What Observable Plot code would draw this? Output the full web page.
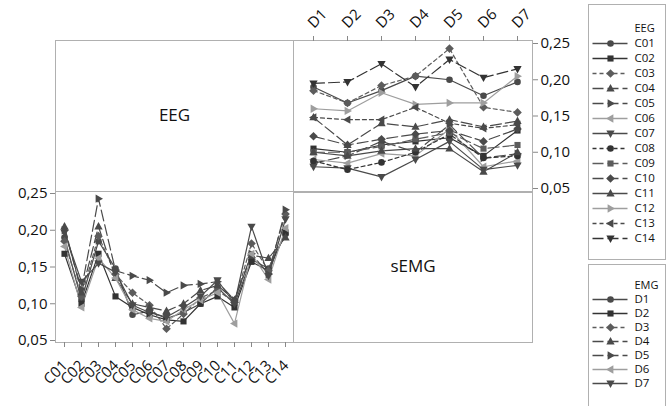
<!DOCTYPE html>
<html><head><meta charset="utf-8">
<script src="https://cdn.jsdelivr.net/npm/d3@7"></script>
<script src="https://cdn.jsdelivr.net/npm/@observablehq/plot@0.6"></script>
<style>
html,body{margin:0;padding:0;background:#fff;overflow:hidden;}
#chart{position:relative;width:670px;height:406px;font-family:"Open Sans",sans-serif;}
#chart svg{position:absolute;overflow:visible;}
</style></head><body><div id="chart"></div>
<script>
// ---------- data ----------
const eegChannels = ["C01","C02","C03","C04","C05","C06","C07","C08","C09","C10","C11","C12","C13","C14"];
const emgChannels = ["D1","D2","D3","D4","D5","D6","D7"];
const yTicks = [0.05, 0.10, 0.15, 0.20, 0.25];
// one array per EEG channel, values for D1..D7
const C01 = [0.190, 0.168, 0.185, 0.205, 0.200, 0.178, 0.197];
const C02 = [0.105, 0.100, 0.110, 0.115, 0.120, 0.095, 0.130];
const C03 = [0.185, 0.168, 0.192, 0.205, 0.243, 0.162, 0.155];
const C04 = [0.148, 0.110, 0.140, 0.135, 0.145, 0.135, 0.143];
const C05 = [0.085, 0.095, 0.115, 0.100, 0.138, 0.092, 0.098];
const C06 = [0.090, 0.085, 0.098, 0.095, 0.132, 0.080, 0.088];
const C07 = [0.080, 0.078, 0.066, 0.090, 0.115, 0.076, 0.082];
const C08 = [0.088, 0.076, 0.086, 0.100, 0.125, 0.092, 0.095];
const C09 = [0.100, 0.100, 0.108, 0.118, 0.127, 0.105, 0.110];
const C10 = [0.122, 0.110, 0.118, 0.125, 0.130, 0.115, 0.132];
const C11 = [0.100, 0.095, 0.102, 0.105, 0.105, 0.073, 0.100];
const C12 = [0.160, 0.157, 0.182, 0.166, 0.168, 0.168, 0.205];
const C13 = [0.148, 0.145, 0.145, 0.162, 0.140, 0.133, 0.138];
const C14 = [0.195, 0.197, 0.222, 0.190, 0.228, 0.203, 0.215];
const matrix = {C01,C02,C03,C04,C05,C06,C07,C08,C09,C10,C11,C12,C13,C14};

const table = [];
eegChannels.forEach(c => emgChannels.forEach((d, j) => table.push({c, d, v: matrix[c][j]})));

// ---------- styles ----------
function tri(angle){
  return {draw(ctx, size){
    const r = Math.sqrt(size/Math.PI);
    const pts = [[0,-1.25*r],[1.15*r,0.8*r],[-1.15*r,0.8*r]];
    const a = angle*Math.PI/180, c = Math.cos(a), s = Math.sin(a);
    pts.forEach(([x,y],i)=>{const X=x*c-y*s, Y=x*s+y*c; i?ctx.lineTo(X,Y):ctx.moveTo(X,Y);});
    ctx.closePath();
  }};
}
const SYM = {
  circle:{draw(ctx,size){const r=Math.sqrt(size/Math.PI)*0.92;ctx.moveTo(r,0);ctx.arc(0,0,r,0,2*Math.PI);}},
  square:{draw(ctx,size){const r=Math.sqrt(size/Math.PI)*0.85;ctx.rect(-r,-r,2*r,2*r);}},
  diamond:{draw(ctx,size){const r=Math.sqrt(size/Math.PI)*1.2;ctx.moveTo(0,-r);ctx.lineTo(r,0);ctx.lineTo(0,r);ctx.lineTo(-r,0);ctx.closePath();}},
  up:tri(0), right:tri(90), down:tri(180), left:tri(270)
};
const DARK="#4a4a4a", DARK2="#333", MID="#5c5c5c", LIGHT="#9e9e9e";
const SOLID=null, DASH="4,3", LONG="11,4";
const eegStyles = {
  C01:{sym:"circle",dash:SOLID,color:DARK},
  C02:{sym:"square",dash:SOLID,color:DARK2},
  C03:{sym:"diamond",dash:DASH,color:MID},
  C04:{sym:"up",dash:LONG,color:DARK},
  C05:{sym:"right",dash:LONG,color:DARK},
  C06:{sym:"left",dash:SOLID,color:LIGHT},
  C07:{sym:"down",dash:SOLID,color:DARK},
  C08:{sym:"circle",dash:DASH,color:DARK2},
  C09:{sym:"square",dash:LONG,color:MID},
  C10:{sym:"diamond",dash:LONG,color:DARK},
  C11:{sym:"up",dash:SOLID,color:DARK},
  C12:{sym:"right",dash:SOLID,color:LIGHT},
  C13:{sym:"left",dash:DASH,color:DARK},
  C14:{sym:"down",dash:LONG,color:DARK2}
};
const emgStyles = {
  D1:{sym:"circle",dash:SOLID,color:DARK},
  D2:{sym:"square",dash:SOLID,color:DARK2},
  D3:{sym:"diamond",dash:DASH,color:MID},
  D4:{sym:"up",dash:LONG,color:DARK},
  D5:{sym:"right",dash:LONG,color:DARK},
  D6:{sym:"left",dash:SOLID,color:LIGHT},
  D7:{sym:"down",dash:SOLID,color:DARK}
};
const fmt = d => d.toFixed(2).replace(".", ",");
const FONT = '"Open Sans", sans-serif';
const frameColor = "#b0b0b0";
const chart = document.getElementById("chart");
function place(svg, left, top){ svg.style.left = left+"px"; svg.style.top = top+"px"; chart.appendChild(svg); }

function seriesMarks(data, key, xKey, styles, names){
  const marks = [];
  names.forEach(n => {
    const st = styles[n];
    const rows = data.filter(r => r[key] === n);
    marks.push(Plot.line(rows, {x: xKey, y: "v", stroke: st.color, strokeWidth: 1.2, strokeDasharray: st.dash}));
  });
  names.forEach(n => {
    const st = styles[n];
    const rows = data.filter(r => r[key] === n);
    marks.push(Plot.dot(rows, {x: xKey, y: "v", symbol: SYM[st.sym], fill: st.color, r: 3.6}));
  });
  return marks;
}

// ---------- top-right: EEG series over EMG channels ----------
const tr = Plot.plot({
  width: 239+50, height: 40+152, marginLeft: 0, marginRight: 50, marginTop: 40, marginBottom: 0,
  style: {fontFamily: FONT, fontSize: "15px", color: "#111", background: "transparent", overflow: "visible"},
  x: {type: "point", domain: emgChannels, padding: 0.5, align: 0.56},
  y: {domain: [0.05, 0.25], insetTop: 3, insetBottom: 4},
  marks: [
    Plot.frame({stroke: frameColor}),
    ...seriesMarks(table, "c", "d", eegStyles, eegChannels),
    Plot.axisY({anchor: "right", ticks: yTicks, tickFormat: fmt, tickSize: 5, tickPadding: 3, label: null, stroke: "#888", fontSize: 15}),
    Plot.axisX({anchor: "top", tickSize: 5, tickFormat: () => "", label: null, stroke: "#888"}),
    Plot.text(emgChannels, {x: d => d, frameAnchor: "top", dy: -19, dx: -7, rotate: -45, textAnchor: "start", fontSize: 15, fill: "#111"})
  ]
});
place(tr, 293, 0);

// ---------- bottom-left: EMG series over EEG channels ----------
const bl = Plot.plot({
  width: 55+238, height: 151+60, marginLeft: 55, marginRight: 0, marginTop: 0, marginBottom: 60,
  style: {fontFamily: FONT, fontSize: "15px", color: "#111", background: "transparent", overflow: "visible"},
  x: {type: "point", domain: eegChannels, padding: 0.47},
  y: {domain: [0.05, 0.25], insetTop: 2, insetBottom: 2},
  marks: [
    Plot.frame({stroke: frameColor}),
    ...seriesMarks(table, "d", "c", emgStyles, emgChannels),
    Plot.axisY({anchor: "left", ticks: yTicks, tickFormat: fmt, tickSize: 5, tickPadding: 3, label: null, stroke: "#888", fontSize: 15}),
    Plot.axisX({anchor: "bottom", tickSize: 5, tickFormat: () => "", label: null, stroke: "#888"}),
    Plot.text(eegChannels, {x: d => d, frameAnchor: "bottom", dy: 24, dx: 4, rotate: -45, textAnchor: "end", fontSize: 15, fill: "#111"})
  ]
});
place(bl, 0, 191);

// ---------- diagonal label panels ----------
function labelPanel(label, w, h){
  return Plot.plot({
    width: w, height: h, margin: 0,
    style: {fontFamily: FONT, background: "transparent", overflow: "visible"},
    x: {domain: [0, 1], axis: null}, y: {domain: [0, 1], axis: null},
    marks: [
      Plot.frame({stroke: frameColor}),
      Plot.text([label], {frameAnchor: "middle", text: d => d, fontSize: 17, fill: "#111"})
    ]
  });
}
place(labelPanel("EEG", 238, 151), 55, 40);
place(labelPanel("sEMG", 239, 151), 293, 191);

// ---------- legends ----------
function legend(title, names, styles, height, yRange, showBottom){
  const marks = [];
  if (showBottom) marks.push(Plot.frame({stroke: frameColor}));
  else marks.push(Plot.frame({stroke: frameColor, insetBottom: -20}));
  names.forEach(n => {
    const st = styles[n];
    marks.push(Plot.link([n], {x1: 4, x2: 39, y1: d => d, y2: d => d, stroke: st.color, strokeWidth: 1.3, strokeDasharray: st.dash}));
    marks.push(Plot.dot([n], {x: 22, y: d => d, symbol: SYM[st.sym], fill: st.color, r: 3.6}));
  });
  marks.push(Plot.text(names, {x: 46, y: d => d, text: d => d, textAnchor: "start", fontSize: 11.5, fill: "#111"}));
  marks.push(Plot.text([title], {x: 46, y: d => d, text: d => d, textAnchor: "start", fontSize: 11, fill: "#111"}));
  return Plot.plot({
    width: 77, height, margin: 0,
    style: {fontFamily: FONT, background: "transparent", overflow: "visible"},
    x: {domain: [0, 77], range: [0, 77], axis: null},
    y: {type: "point", domain: [title, ...names], range: yRange, axis: null},
    marks
  });
}
place(legend("EEG", eegChannels, eegStyles, 255, [15, 243], true), 588, 4);
place(legend("EMG", emgChannels, emgStyles, 140, [13, 127], false), 588, 264);
</script></body></html>
